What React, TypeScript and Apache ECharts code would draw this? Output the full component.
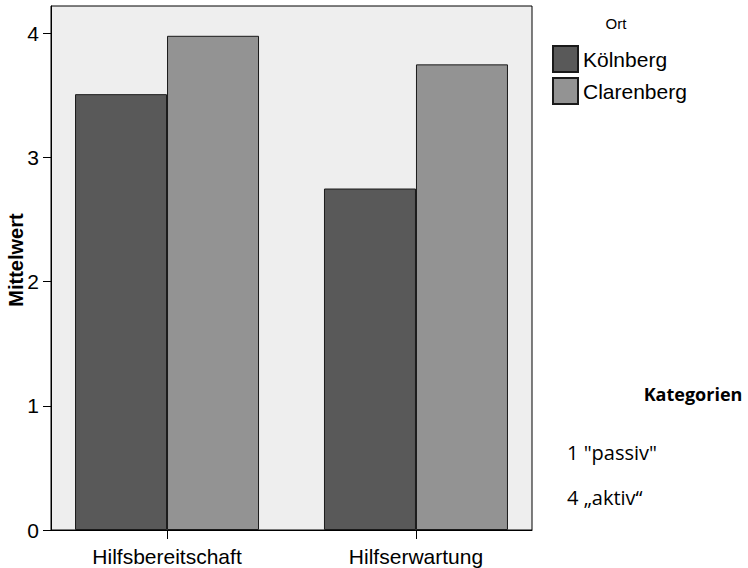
import React, { useEffect, useRef } from "react";
import * as echarts from "echarts";

const categories = ["Hilfsbereitschaft", "Hilfserwartung"];
const seriesNames = ["Kölnberg", "Clarenberg"];
const koelnbergValues = [3.51, 2.75];
const clarenbergValues = [3.98, 3.75];
const yTicks = [0, 1, 2, 3, 4];
const legendTitle = "Ort";
const noteTitle = "Kategorien";
const noteLines = ['1 "passiv"', "4 \u201Eaktiv\u201C"];
const yAxisTitle = "Mittelwert";

const FONT = "Liberation Sans";
const NOTE_FONT = "Open Sans";

export default function App() {
  const ref = useRef<HTMLDivElement>(null);
  useEffect(() => {
    if (!ref.current) return;
    const chart = echarts.init(ref.current, null, { renderer: "svg" });
    const catIdx = categories.map((_, i) => i);
    const option: any = {
      animation: false,
      backgroundColor: "#ffffff",
      textStyle: { fontFamily: FONT },
      grid: {
        left: 51,
        top: 6,
        width: 481,
        height: 524,
        show: true,
        backgroundColor: "#eeeeee",
        borderColor: "#000000",
        borderWidth: 1,
        containLabel: false,
      },
      legend: {
        orient: "vertical",
        left: 547,
        top: 40,
        itemWidth: 25,
        itemHeight: 26,
        itemGap: 4,
        icon: "rect",
        data: seriesNames,
        textStyle: { fontFamily: FONT, fontSize: 21, color: "#000" },
      },
      xAxis: {
        type: "value",
        min: -0.466,
        max: 1.466,
        axisLine: { show: true, onZero: false, lineStyle: { color: "#000", width: 1 } },
        axisTick: {
          show: true,
          length: 9,
          customValues: catIdx,
          lineStyle: { color: "#000" },
        },
        axisLabel: {
          show: true,
          customValues: catIdx,
          margin: 16,
          fontSize: 21,
          color: "#000",
          fontFamily: FONT,
          formatter: (v: number) => categories[Math.round(v)] ?? "",
        },
        splitLine: { show: false },
      },
      yAxis: {
        type: "value",
        min: 0,
        max: 4.22,
        axisLine: { show: true, onZero: false, lineStyle: { color: "#000", width: 1 } },
        axisTick: {
          show: true,
          length: 8,
          customValues: yTicks,
          lineStyle: { color: "#000" },
        },
        axisLabel: {
          show: true,
          customValues: yTicks,
          margin: 12,
          fontSize: 21,
          color: "#000",
          fontFamily: FONT,
        },
        splitLine: { show: false },
      },
      series: [
        {
          name: seriesNames[0],
          type: "bar",
          barWidth: 92,
          barGap: "0%",
          data: koelnbergValues.map((v, i) => [i, v]),
          itemStyle: { color: "#595959", borderColor: "#1a1a1a", borderWidth: 1 },
        },
        {
          name: seriesNames[1],
          type: "bar",
          barWidth: 92,
          barGap: "0%",
          data: clarenbergValues.map((v, i) => [i, v]),
          itemStyle: { color: "#939393", borderColor: "#1a1a1a", borderWidth: 1 },
        },
      ],
      graphic: [
        {
          type: "text",
          x: 16,
          y: 260,
          rotation: Math.PI / 2,
          style: {
            text: yAxisTitle,
            font: `bold 20px ${FONT}`,
            fill: "#000",
            align: "center",
            verticalAlign: "middle",
          },
        },
        {
          type: "text",
          x: 616,
          y: 23,
          style: {
            text: legendTitle,
            font: `15px ${FONT}`,
            fill: "#000",
            align: "center",
            verticalAlign: "middle",
          },
        },
        {
          type: "text",
          x: 693,
          y: 394,
          style: {
            text: noteTitle,
            font: `bold 18px ${NOTE_FONT}`,
            fill: "#000",
            align: "center",
            verticalAlign: "middle",
          },
        },
        ...noteLines.map((t, i) => ({
          type: "text",
          x: 567,
          y: 452 + i * 45,
          style: {
            text: t,
            font: `20px ${NOTE_FONT}`,
            fill: "#000",
            align: "left",
            verticalAlign: "middle",
          },
        })),
      ],
    };
    chart.setOption(option);
    return () => chart.dispose();
  }, []);
  return (
    <div
      ref={ref}
      style={{ position: "fixed", left: 0, top: 0, width: 748, height: 568 }}
    />
  );
}
